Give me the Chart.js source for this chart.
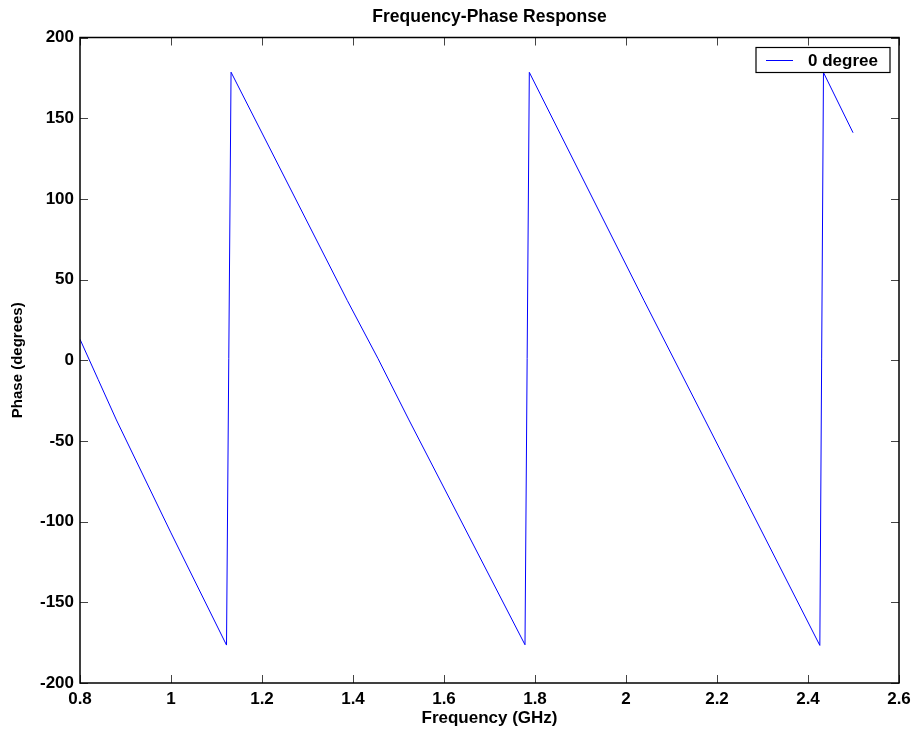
<!DOCTYPE html>
<html>
<head>
<meta charset="utf-8">
<script src="https://cdn.jsdelivr.net/npm/chart.js@4.4.0/dist/chart.umd.min.js"></script>
<style>
  html, body { margin: 0; padding: 0; background: #fff; }
  #wrap { width: 918px; height: 736px; }
</style>
</head>
<body>
<div id="wrap"><canvas id="phaseChart" width="918" height="736"></canvas></div>
<script>
// values
const freqGHz = [0.8, 0.84, 0.88, 1.0, 1.122, 1.132, 1.3875, 1.455, 1.523, 1.778, 1.7875, 2.0396, 2.1736, 2.426, 2.434, 2.499];
const phaseDeg = [13, -12, -37, -107, -176.5, 178.5, 37, 1, -37, -176.3, 178.4, 37, -37, -176.7, 178.3, 141];
const seriesLabel = '0 degree';
const chartTitle = 'Frequency-Phase Response';
const xTicks = [0.8, 1, 1.2, 1.4, 1.6, 1.8, 2, 2.2, 2.4, 2.6];
const yTicks = [-200, -150, -100, -50, 0, 50, 100, 150, 200];

const FONT = 'Liberation Sans, Arial, Helvetica, sans-serif';
Chart.defaults.color = '#000';
Chart.defaults.font.family = FONT;

// matlab style frame: box, inward ticks on all sides, title over the axes, legend in the corner
const matlabFrame = {
  id: 'matlabFrame',
  afterDatasetsDraw(chart) {
    const { ctx, chartArea: { left, right, top, bottom }, scales: { x, y } } = chart;
    const tl = 8;
    ctx.save();
    ctx.strokeStyle = '#444';
    ctx.lineWidth = 1;
    ctx.beginPath();
    x.ticks.forEach(t => {
      const px = Math.round(x.getPixelForValue(t.value)) + 0.5;
      ctx.moveTo(px, bottom); ctx.lineTo(px, bottom - tl);
      ctx.moveTo(px, top); ctx.lineTo(px, top + tl);
    });
    y.ticks.forEach(t => {
      const py = Math.round(y.getPixelForValue(t.value)) + 0.5;
      ctx.moveTo(left, py); ctx.lineTo(left + tl, py);
      ctx.moveTo(right, py); ctx.lineTo(right - tl, py);
    });
    ctx.stroke();

    ctx.strokeStyle = '#000';
    ctx.lineWidth = 1.5;
    ctx.strokeRect(left, top, right - left, bottom - top);

    // title, centred on the axes box
    ctx.fillStyle = '#000';
    ctx.font = 'bold 17.5px ' + FONT;
    ctx.textAlign = 'center';
    ctx.textBaseline = 'middle';
    ctx.fillText(chartTitle, (left + right) / 2, 17);

    // legend box
    const bx = right - 143, by = top + 10, bw = 134, bh = 25;
    ctx.fillStyle = '#fff';
    ctx.fillRect(bx, by, bw, bh);
    ctx.lineWidth = 1.2;
    ctx.strokeRect(bx, by, bw, bh);
    const ds = chart.data.datasets[0];
    ctx.strokeStyle = ds.borderColor;
    ctx.lineWidth = 1;
    ctx.beginPath();
    ctx.moveTo(bx + 10, by + bh / 2 + 0.5);
    ctx.lineTo(bx + 37, by + bh / 2 + 0.5);
    ctx.stroke();
    ctx.fillStyle = '#000';
    ctx.font = 'bold 17px ' + FONT;
    ctx.textAlign = 'left';
    ctx.fillText(ds.label, bx + 52, by + bh / 2 + 1);
    ctx.restore();
  }
};

window.addEventListener('DOMContentLoaded', () => {
  const ctx = document.getElementById('phaseChart').getContext('2d');
  new Chart(ctx, {
    type: 'line',
    data: {
      datasets: [{
        label: seriesLabel,
        data: freqGHz.map((f, i) => ({ x: f, y: phaseDeg[i] })),
        borderColor: '#0000ff',
        borderWidth: 1,
        pointRadius: 0,
        tension: 0,
        fill: false
      }]
    },
    options: {
      responsive: false,
      animation: false,
      layout: { padding: { left: 0, right: 19, top: 37.5, bottom: 0 } },
      plugins: {
        legend: { display: false },
        tooltip: { enabled: false },
        title: { display: false }
      },
      scales: {
        x: {
          type: 'linear',
          min: 0.8,
          max: 2.6,
          afterBuildTicks: s => { s.ticks = xTicks.map(v => ({ value: v })); },
          afterFit: s => { s.height = 53; },
          grid: { display: false, drawTicks: false },
          border: { display: false },
          ticks: {
            padding: 6,
            color: '#000',
            font: { size: 17, weight: 'bold', family: FONT },
            callback: v => String(Number(v.toFixed(1)))
          },
          title: {
            display: true,
            text: 'Frequency (GHz)',
            font: { size: 17, weight: 'bold', family: FONT },
            color: '#000',
            padding: { top: 0, bottom: 7.5 }
          }
        },
        y: {
          type: 'linear',
          min: -200,
          max: 200,
          afterBuildTicks: s => { s.ticks = yTicks.map(v => ({ value: v })); },
          afterFit: s => { s.width = 80; },
          grid: { display: false, drawTicks: false },
          border: { display: false },
          ticks: {
            padding: 6,
            color: '#000',
            font: { size: 17, weight: 'bold', family: FONT }
          },
          title: {
            display: true,
            text: 'Phase (degrees)',
            font: { size: 15, weight: 'bold', family: FONT },
            color: '#000',
            padding: { top: 9, bottom: 0 }
          }
        }
      }
    },
    plugins: [matlabFrame]
  });
});
</script>
</body>
</html>
